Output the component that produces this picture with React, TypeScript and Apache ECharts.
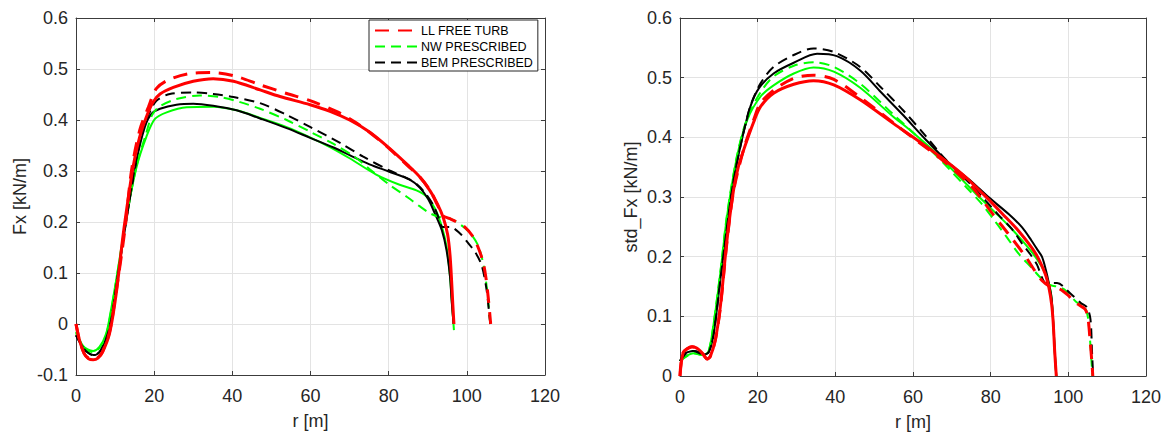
import React, { useEffect, useRef } from "react";
import * as echarts from "echarts";

// ---------- Data: left chart (Fx [kN/m]) ----------
const fxLLSolid: number[][] = [
  [0, 0], [0.9, -0.032], [2.1, -0.058], [3.2, -0.068], [4.4, -0.07], [5.6, -0.067], [6.8, -0.055],
  [8.6, -0.018], [10.3, 0.06], [12, 0.171], [13.3, 0.243], [14.6, 0.308], [16.3, 0.367], [18, 0.406],
  [19.7, 0.435], [21.5, 0.451], [24.9, 0.464], [30, 0.476], [35.1, 0.481], [40.3, 0.476], [47.1, 0.459],
  [52.2, 0.446], [59.9, 0.43], [65, 0.417], [70, 0.4], [75, 0.377], [80, 0.346], [85, 0.311],
  [88, 0.288], [90.6, 0.261], [92.5, 0.235], [94, 0.208], [95.1, 0.175], [95.7, 0.135], [96.1, 0.085],
  [96.4, 0.04], [96.7, 0],
];
const fxNWSolid: number[][] = [
  [0, -0.015], [1.7, -0.042], [3, -0.05], [4.4, -0.053], [6, -0.045], [7.7, -0.019], [8.8, 0.021],
  [10.3, 0.087], [12.9, 0.21], [15.5, 0.308], [18, 0.367], [20.2, 0.402], [23.2, 0.415], [28.3, 0.425],
  [35.1, 0.426], [41.1, 0.419], [47.1, 0.404], [53.9, 0.386], [59.9, 0.366], [65.2, 0.346], [70, 0.325],
  [76.8, 0.293], [82.8, 0.273], [87.1, 0.262], [89.7, 0.25], [91.8, 0.227], [93.6, 0.191], [94.8, 0.152],
  [95.7, 0.093], [96.2, 0.04], [96.7, -0.012],
];
const fxBEMSolid: number[][] = [
  [0, -0.022], [1.7, -0.045], [3, -0.056], [4.4, -0.061], [6, -0.055], [7.7, -0.029], [8.2, -0.018],
  [9, 0.008], [10.8, 0.1], [12.9, 0.204], [15.5, 0.321], [17.6, 0.386], [19.3, 0.412], [21.5, 0.422],
  [25.7, 0.43], [30, 0.432], [35.1, 0.428], [41.1, 0.419], [47.1, 0.403], [53.9, 0.384], [59.9, 0.365],
  [65.9, 0.346], [70, 0.331], [75.1, 0.313], [80, 0.299], [85.4, 0.283], [88, 0.267], [90.1, 0.245],
  [91.8, 0.217], [93.6, 0.184], [94.8, 0.145], [95.7, 0.093], [96.1, 0.047], [96.6, 0],
];
const fxLLDashed: number[][] = [
  [0, 0], [0.9, -0.032], [2.1, -0.058], [3.2, -0.067], [4.4, -0.069], [5.6, -0.066], [6.8, -0.054],
  [8.6, -0.015], [10.3, 0.065], [12.5, 0.184], [14.2, 0.301], [16.3, 0.38], [18.5, 0.425], [20.6, 0.462],
  [24, 0.48], [30, 0.492], [35.1, 0.493], [40.3, 0.487], [47.1, 0.469], [53.9, 0.452], [59.9, 0.438],
  [66.9, 0.416], [71.6, 0.395], [75.4, 0.374], [80, 0.345], [84.9, 0.31], [88, 0.288], [90.6, 0.262],
  [92.5, 0.233], [93.8, 0.213], [95.5, 0.207], [97.4, 0.2], [99.5, 0.19], [101.5, 0.172], [103, 0.148],
  [104.2, 0.12], [104.9, 0.09], [105.5, 0.05], [106.1, 0],
];
const fxNWDashed: number[][] = [
  [0, -0.018], [1.7, -0.043], [3, -0.052], [4.4, -0.055], [6, -0.047], [7.7, -0.022], [8.8, 0.018],
  [10.3, 0.085], [12.9, 0.208], [15.5, 0.31], [18, 0.375], [19.5, 0.41], [21.5, 0.427], [25.7, 0.441],
  [31.7, 0.448], [36.8, 0.445], [42, 0.435], [47.1, 0.422], [53.9, 0.4], [59.9, 0.377], [65.9, 0.353],
  [71.6, 0.326], [75.4, 0.302], [80.2, 0.273], [84.9, 0.248], [87.7, 0.232], [90.6, 0.217], [93, 0.21],
  [95.5, 0.207], [97.4, 0.2], [99.5, 0.188], [101.5, 0.172], [103, 0.152], [104, 0.125], [104.8, 0.09],
  [105.4, 0.05], [106, 0],
];
const fxBEMDashed: number[][] = [
  [0, -0.022], [1.7, -0.045], [3, -0.056], [4.4, -0.061], [6, -0.055], [7.7, -0.029], [9, 0.008],
  [10.8, 0.1], [12.9, 0.206], [15.5, 0.325], [17.6, 0.392], [19.3, 0.422], [20.6, 0.438], [24, 0.451],
  [30, 0.454], [35.1, 0.451], [40.3, 0.445], [47.1, 0.433], [53.9, 0.41], [60, 0.386], [67.8, 0.354],
  [73.5, 0.328], [80.2, 0.301], [84.9, 0.285], [87.5, 0.272], [89.5, 0.255], [91.5, 0.232], [92.8, 0.208],
  [93.8, 0.19], [95.8, 0.19], [98.2, 0.178], [100.4, 0.158], [102.2, 0.14], [103.8, 0.115], [105, 0.07],
  [105.6, 0.03], [106, 0],
];

// ---------- Data: right chart (std_Fx [kN/m]) ----------
const sdLLSolid: number[][] = [
  [0, 0], [0.8, 0.039], [2, 0.046], [3.1, 0.049], [4.2, 0.047], [5.2, 0.042], [6.2, 0.035], [7, 0.028],
  [7.8, 0.033], [9.1, 0.061], [10.4, 0.117], [12.1, 0.228], [13.8, 0.312], [15, 0.35], [16.4, 0.379],
  [19, 0.426], [20.7, 0.451], [24.1, 0.474], [29.3, 0.489], [34.4, 0.495], [39.6, 0.488], [46.4, 0.463],
  [55, 0.423], [61.4, 0.394], [67.1, 0.367], [72.9, 0.337], [77.9, 0.306], [83, 0.272], [87.2, 0.243],
  [91.5, 0.206], [94, 0.172], [95, 0.148], [95.7, 0.12], [96.1, 0.09], [96.5, 0.04], [96.9, 0],
];
const sdNWSolid: number[][] = [
  [0, 0.025], [1.5, 0.033], [3.5, 0.038], [5, 0.036], [6.1, 0.035], [7.4, 0.042], [8.7, 0.089],
  [10.4, 0.173], [12.1, 0.267], [14.7, 0.368], [17.3, 0.429], [20.7, 0.468], [24.1, 0.487], [29.3, 0.507],
  [34.4, 0.517], [39.6, 0.51], [46.4, 0.483], [55, 0.434], [58.5, 0.416], [65.2, 0.378], [71, 0.34],
  [75.8, 0.308], [80.7, 0.277], [85.5, 0.246], [90.3, 0.21], [93, 0.185], [94.5, 0.165], [95.5, 0.14],
  [96.1, 0.09], [96.6, 0.03], [96.9, 0],
];
const sdBEMSolid: number[][] = [
  [0, 0.025], [1, 0.037], [2, 0.04], [3.5, 0.042], [5, 0.04], [6.1, 0.036], [7.4, 0.04], [8.7, 0.072],
  [10.4, 0.162], [12.1, 0.25], [13.8, 0.328], [15.9, 0.395], [18.1, 0.451], [20.3, 0.482], [24.1, 0.507],
  [29.3, 0.525], [35.3, 0.54], [40.4, 0.536], [46.4, 0.512], [51.7, 0.476], [57.5, 0.437], [63.3, 0.396],
  [69.1, 0.358], [74.9, 0.327], [79.6, 0.299], [84.7, 0.271], [88.1, 0.249], [90.5, 0.227], [91.9, 0.213],
  [93.2, 0.2], [94.2, 0.178], [95, 0.155], [95.7, 0.13], [96.2, 0.08], [96.6, 0.03], [96.9, 0],
];
const sdLLDashed: number[][] = [
  [0, 0], [0.8, 0.039], [3.1, 0.049], [5.2, 0.042], [7, 0.029], [7.8, 0.033], [9.1, 0.06], [10.4, 0.115],
  [12.1, 0.225], [13.8, 0.31], [16.4, 0.38], [19, 0.43], [20.7, 0.457], [24.1, 0.479], [29.3, 0.499],
  [34.4, 0.504], [39.6, 0.497], [46.4, 0.467], [55, 0.424], [59.4, 0.402], [68.1, 0.359], [74.9, 0.319],
  [77.5, 0.298], [80.7, 0.27], [84.7, 0.237], [88.9, 0.201], [91.5, 0.175], [93.2, 0.16], [95.2, 0.15],
  [97, 0.148], [98.5, 0.143], [100, 0.135], [101.5, 0.125], [103, 0.118], [104.3, 0.112], [105, 0.1],
  [105.6, 0.06], [106.1, 0.02], [106.3, 0],
];
const sdNWDashed: number[][] = [
  [0, 0.025], [3.5, 0.038], [6.1, 0.035], [7.4, 0.042], [8.7, 0.09], [10.4, 0.175], [12.1, 0.27],
  [14.7, 0.37], [17.3, 0.432], [20.7, 0.475], [24.1, 0.502], [29.3, 0.52], [34.4, 0.526], [39.6, 0.518],
  [46.4, 0.49], [55, 0.438], [60, 0.408], [67.1, 0.362], [73.9, 0.315], [77.5, 0.29], [81.3, 0.258],
  [84, 0.234], [87.2, 0.205], [90.6, 0.181], [92.8, 0.165], [95, 0.153], [97, 0.15], [99, 0.145],
  [101.9, 0.125], [104.3, 0.114], [105, 0.1], [105.6, 0.06], [106.2, 0],
];
const sdBEMDashed: number[][] = [
  [0, 0.025], [1.8, 0.039], [3.5, 0.042], [6.1, 0.036], [7.4, 0.04], [8.7, 0.072], [10.4, 0.162],
  [12.1, 0.25], [13.8, 0.328], [15.9, 0.395], [18.1, 0.452], [20.7, 0.49], [24.1, 0.518], [29.3, 0.538],
  [34.4, 0.549], [39.6, 0.543], [46.4, 0.518], [51.7, 0.484], [57.5, 0.445], [63.3, 0.402], [68.1, 0.365],
  [74.9, 0.321], [78.7, 0.294], [82, 0.27], [85.5, 0.246], [88.1, 0.222], [90.2, 0.204], [91.9, 0.187],
  [93.2, 0.165], [94.2, 0.156], [97.1, 0.156], [100.4, 0.139], [103.3, 0.122], [104.8, 0.115],
  [105.7, 0.095], [106.1, 0.04], [106.4, 0],
];

const legendNames = ["LL FREE TURB", "NW PRESCRIBED", "BEM PRESCRIBED"];
const xLabel = "r [m]";
const yLabelLeft = "Fx [kN/m]";
const yLabelRight = "std_Fx [kN/m]";

const RED = "#ff0000";
const GREEN = "#00ff00";
const BLACK = "#000000";
const FONT = "'Liberation Sans', Arial, Helvetica, sans-serif";
const AXIS = "#3c3c3c";
const TXT = "#262626";

function mkLine(name: string, data: number[][], color: string, width: number, dash: number[] | null, axis: number) {
  return {
    name,
    type: "line",
    xAxisIndex: axis,
    yAxisIndex: axis,
    data,
    symbol: "none",
    showSymbol: false,
    smooth: 0.3,
    itemStyle: { color },
    lineStyle: { color, width, type: dash ? dash : "solid", cap: "butt" },
    emphasis: { disabled: true },
    z: 2,
  };
}

function mainX(gridIndex: number) {
  return {
    type: "value",
    gridIndex,
    min: 0,
    max: 120,
    interval: 20,
    name: xLabel,
    nameLocation: "middle",
    nameGap: 37,
    nameTextStyle: { fontSize: 18, color: TXT, fontFamily: FONT },
    axisLine: { show: true, onZero: false, lineStyle: { color: AXIS, width: 1 } },
    axisTick: { show: true, inside: true, length: 4, lineStyle: { color: AXIS } },
    axisLabel: { fontSize: 18, color: TXT, fontFamily: FONT, margin: 12 },
    splitLine: { show: true, lineStyle: { color: "#e3e3e3", width: 1 } },
  };
}
function topX(gridIndex: number) {
  return {
    type: "value",
    gridIndex,
    position: "top",
    min: 0,
    max: 120,
    interval: 20,
    axisLine: { show: true, onZero: false, lineStyle: { color: AXIS, width: 1 } },
    axisTick: { show: true, inside: true, length: 4, lineStyle: { color: AXIS } },
    axisLabel: { show: false },
    splitLine: { show: false },
  };
}
function mainY(gridIndex: number, min: number, name: string, gap: number) {
  return {
    type: "value",
    gridIndex,
    min,
    max: 0.6,
    interval: 0.1,
    name,
    nameLocation: "middle",
    nameGap: gap,
    nameTextStyle: { fontSize: 18, color: TXT, fontFamily: FONT },
    axisLine: { show: true, onZero: false, lineStyle: { color: AXIS, width: 1 } },
    axisTick: { show: true, inside: true, length: 4, lineStyle: { color: AXIS } },
    axisLabel: {
      fontSize: 18,
      color: TXT,
      fontFamily: FONT,
      margin: 8,
      formatter: (v: number) => String(Number(v.toFixed(1))),
    },
    splitLine: { show: true, lineStyle: { color: "#e3e3e3", width: 1 } },
  };
}
function rightY(gridIndex: number, min: number) {
  return {
    type: "value",
    gridIndex,
    position: "right",
    min,
    max: 0.6,
    interval: 0.1,
    axisLine: { show: true, onZero: false, lineStyle: { color: AXIS, width: 1 } },
    axisTick: { show: true, inside: true, length: 4, lineStyle: { color: AXIS } },
    axisLabel: { show: false },
    splitLine: { show: false },
  };
}

export default function App() {
  const ref = useRef<HTMLDivElement>(null);
  useEffect(() => {
    if (!ref.current) return;
    const chart = echarts.init(ref.current, null, { renderer: "svg" });
    const option = {
      animation: false,
      backgroundColor: "#ffffff",
      textStyle: { fontFamily: FONT },
      grid: [
        { left: 76, top: 18, width: 469, height: 357, containLabel: false },
        { left: 680, top: 18, width: 466, height: 358, containLabel: false },
      ],
      xAxis: [mainX(0), topX(0), mainX(1), topX(1)],
      yAxis: [
        mainY(0, -0.1, yLabelLeft, 47),
        rightY(0, -0.1),
        mainY(1, 0, yLabelRight, 40),
        rightY(1, 0),
      ],
      legend: {
        data: legendNames,
        orient: "vertical",
        left: 369,
        top: 20,
        itemWidth: 43,
        itemHeight: 14,
        itemGap: 3,
        padding: [4, 5, 2, 5],
        backgroundColor: "#ffffff",
        borderColor: "#262626",
        borderWidth: 1,
        borderRadius: 0,
        selectedMode: false,
        itemStyle: { opacity: 0, borderWidth: 0 },
        textStyle: { fontSize: 12.5, color: "#000", fontFamily: FONT, padding: [0, 0, 0, -2] },
      },
      series: [
        mkLine("NW solid L", fxNWSolid, GREEN, 2, null, 0),
        mkLine("BEM solid L", fxBEMSolid, BLACK, 2, null, 0),
        mkLine(legendNames[1], fxNWDashed, GREEN, 2, [10, 6], 0),
        mkLine(legendNames[2], fxBEMDashed, BLACK, 2, [10, 6], 0),
        mkLine(legendNames[0], fxLLDashed, RED, 3, [14, 9], 0),
        mkLine("LL solid L", fxLLSolid, RED, 3, null, 0),
        mkLine("NW solid R", sdNWSolid, GREEN, 2, null, 2),
        mkLine("BEM solid R", sdBEMSolid, BLACK, 2, null, 2),
        mkLine("NW dashed R", sdNWDashed, GREEN, 2, [10, 6], 2),
        mkLine("BEM dashed R", sdBEMDashed, BLACK, 2, [10, 6], 2),
        mkLine("LL dashed R", sdLLDashed, RED, 3, [14, 9], 2),
        mkLine("LL solid R", sdLLSolid, RED, 3, null, 2),
      ],
    };
    chart.setOption(option as any);
    return () => chart.dispose();
  }, []);
  return (
    <div
      ref={ref}
      style={{ position: "absolute", left: 0, top: 0, width: 1169, height: 437, background: "#fff" }}
    />
  );
}
